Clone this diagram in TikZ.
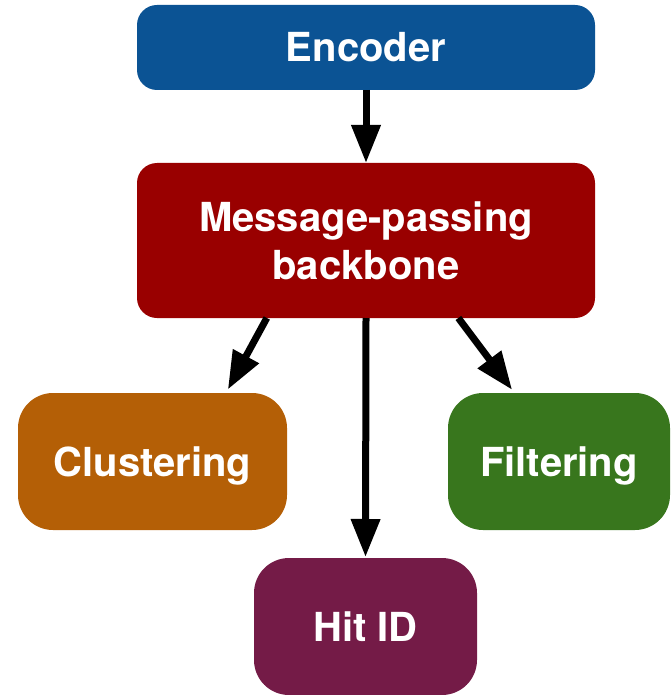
\documentclass[tikz,border=0pt]{standalone}
\usepackage{fontspec}
\setmainfont{TeX Gyre Heros}
\usetikzlibrary{arrows.meta}

\definecolor{encblue}{HTML}{0B5394}
\definecolor{bbred}{HTML}{990000}
\definecolor{cluorange}{HTML}{B45F06}
\definecolor{filtgreen}{HTML}{38761D}
\definecolor{hitpurple}{HTML}{741B47}

\begin{document}
\begin{tikzpicture}[x=1pt,y=-1pt,
  stage/.style={rectangle, rounded corners=20pt, inner sep=0pt, outer sep=0pt,
    text=white, align=center, font=\bfseries\fontsize{40}{48}\selectfont,
    minimum width=458pt},
  task/.style={stage, rounded corners=35pt, text depth=0pt,
    minimum width=222pt, minimum height=137pt},
  flow/.style={line width=7pt, -{Triangle[length=38pt,width=28pt]}}]
  \useasboundingbox (0,0) rectangle (671,695);

  % pipeline stages
  \node [stage, fill=encblue, minimum height=85pt] (enc) at (366,47.5) {Encoder};
  \node [stage, fill=bbred, minimum height=155pt] (bb) at (366,240.5) {Message-passing\\backbone};

  % task heads
  \node [task, fill=cluorange, minimum width=269pt] (clu) at (152.5,461.5) {Clustering};
  \node [task, fill=filtgreen] (filt) at (559,461.5) {Filtering};
  \node [task, fill=hitpurple, minimum width=223pt] (hit) at (365.5,626.5) {Hit ID};

  \draw [flow] (enc.south) -- (bb.north);
  \draw [flow, shorten >=4pt] (bb.218) -- (clu.43);
  \draw [flow, shorten >=1pt] (bb.south) -- (hit.north);
  \draw [flow, shorten >=4pt] (bb.320) -- (filt.123);

\end{tikzpicture}
\end{document}
